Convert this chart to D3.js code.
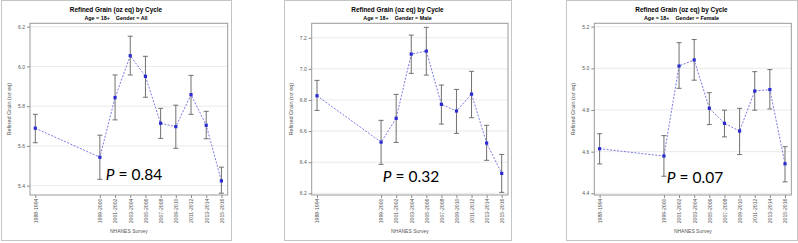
<!doctype html>
<html lang="en">
<head>
<meta charset="utf-8">
<title>Refined Grain by Cycle</title>
<script src="https://cdn.jsdelivr.net/npm/d3@7"></script>
<style>
  body { margin: 0; background: #fff; }
  svg text { font-family: "Liberation Sans", Arial, sans-serif; }
</style>
</head>
<body>
<div id="chart"></div>
<script>
// survey cycles (x categories)
var cycles = ["1988-1994", "1999-2000", "2001-2002", "2003-2004", "2005-2006",
  "2007-2008", "2009-2010", "2011-2012", "2013-2014", "2015-2016"];

// Age 18+, Gender = All
var allMean  = [5.689, 5.543, 5.843, 6.054, 5.950, 5.714, 5.697, 5.858, 5.704, 5.424];
var allLower = [5.616, 5.432, 5.731, 5.957, 5.845, 5.638, 5.588, 5.759, 5.636, 5.362];
var allUpper = [5.759, 5.654, 5.957, 6.152, 6.051, 5.789, 5.805, 5.955, 5.774, 5.493];

// Age 18+, Gender = Male
var maleMean  = [6.827, 6.529, 6.682, 7.095, 7.114, 6.772, 6.729, 6.838, 6.523, 6.328];
var maleLower = [6.733, 6.386, 6.527, 6.971, 6.960, 6.645, 6.585, 6.686, 6.412, 6.206];
var maleUpper = [6.926, 6.669, 6.836, 7.217, 7.267, 6.896, 6.868, 6.984, 6.637, 6.450];

// Age 18+, Gender = Female
var femaleMean  = [4.614, 4.579, 5.011, 5.040, 4.808, 4.736, 4.699, 4.891, 4.898, 4.542];
var femaleLower = [4.541, 4.482, 4.904, 4.943, 4.730, 4.671, 4.586, 4.799, 4.805, 4.455];
var femaleUpper = [4.686, 4.677, 5.123, 5.138, 4.883, 4.799, 4.808, 4.984, 4.994, 4.624];

// y tick labels per panel
var allTicks    = [5.4, 5.6, 5.8, 6.0, 6.2];
var maleTicks   = [6.2, 6.4, 6.6, 6.8, 7.0, 7.2];
var femaleTicks = [4.4, 4.6, 4.8, 5.0, 5.2];

var genders = ["All", "Male", "Female"];
var pValues = ["0.84", "0.32", "0.07"];

var svg = d3.select("#chart").append("svg")
  .attr("width", 798)
  .attr("height", 243);

// layout of each panel (outer box, plot frame, y range)
var panels = [
  { box: [1, 231], frame: [30, 227.7], ydom: [5.353, 6.217], ticks: allTicks,
    mean: allMean, lo: allLower, hi: allUpper, px: 134, py: 179.5 },
  { box: [284, 511], frame: [311.7, 508], ydom: [6.189, 7.293], ticks: maleTicks,
    mean: maleMean, lo: maleLower, hi: maleUpper, px: 411, py: 181.5 },
  { box: [566, 797], frame: [594.3, 791.3], ydom: [4.392, 5.216], ticks: femaleTicks,
    mean: femaleMean, lo: femaleLower, hi: femaleUpper, px: 695, py: 183 }
];

var plotTop = 23.3, plotBottom = 195;

// midpoint year of each cycle, used as the x value
var cycleMid = cycles.map(function(c) {
  var p = c.split("-");
  return (+p[0] + +p[1]) / 2;
});

panels.forEach(function(p, i) {
  drawPanel(p, genders[i], pValues[i]);
});

function drawPanel(p, gender, pval) {
  var g = svg.append("g");

  // outer border
  g.append("rect")
    .attr("x", p.box[0] + 0.5).attr("y", 0.5)
    .attr("width", p.box[1] - p.box[0]).attr("height", 240)
    .attr("fill", "none").attr("stroke", "#c4c4c4");

  var x = d3.scaleLinear()
    .domain(d3.extent(cycleMid))
    .range([p.frame[0] + 5.3, p.frame[1] - 6.3]);
  var y = d3.scaleLinear()
    .domain(p.ydom)
    .range([plotBottom, plotTop]);

  // grid
  g.selectAll(".grid").data(p.ticks).enter().append("line")
    .attr("x1", p.frame[0]).attr("x2", p.frame[1])
    .attr("y1", function(d) { return y(d); })
    .attr("y2", function(d) { return y(d); })
    .attr("stroke", "#e4e4e4").attr("stroke-width", 0.8);

  // y axis
  var yAxis = d3.axisLeft(y).tickValues(p.ticks).tickSize(3).tickPadding(2)
    .tickFormat(d3.format(".1f"));
  var ya = g.append("g")
    .attr("transform", "translate(" + p.frame[0] + ",0)")
    .call(yAxis);
  ya.select(".domain").remove();
  ya.selectAll("line").attr("stroke", "#888");
  ya.selectAll("text").attr("font-size", 5).attr("fill", "#555");

  // x axis
  var xAxis = d3.axisBottom(x).tickValues(cycleMid).tickSize(3).tickPadding(2)
    .tickFormat(function(d, i) { return cycles[i]; });
  var xa = g.append("g")
    .attr("transform", "translate(0," + plotBottom + ")")
    .call(xAxis);
  xa.select(".domain").remove();
  xa.selectAll("line").attr("stroke", "#888");
  xa.selectAll("text")
    .attr("font-size", 5.2).attr("fill", "#555")
    .attr("transform", "rotate(-90)")
    .attr("text-anchor", "end")
    .attr("x", -3.5).attr("y", 0).attr("dy", "0.35em");

  // plot frame
  g.append("rect")
    .attr("x", p.frame[0]).attr("y", plotTop)
    .attr("width", p.frame[1] - p.frame[0]).attr("height", plotBottom - plotTop)
    .attr("fill", "none").attr("stroke", "#9a9a9a").attr("stroke-width", 1);

  // connecting line
  var line = d3.line()
    .x(function(d, i) { return x(cycleMid[i]); })
    .y(function(d) { return y(d); });
  g.append("path")
    .datum(p.mean)
    .attr("d", line)
    .attr("fill", "none")
    .attr("stroke", "#6b6be0")
    .attr("stroke-width", 0.9)
    .attr("stroke-dasharray", "2,1.5");

  // error bars
  var bars = g.selectAll(".bar").data(p.mean).enter().append("g");
  bars.append("line")
    .attr("x1", function(d, i) { return x(cycleMid[i]); })
    .attr("x2", function(d, i) { return x(cycleMid[i]); })
    .attr("y1", function(d, i) { return y(p.lo[i]); })
    .attr("y2", function(d, i) { return y(p.hi[i]); })
    .attr("stroke", "#707070").attr("stroke-width", 1);
  [p.lo, p.hi].forEach(function(arr) {
    bars.append("line")
      .attr("x1", function(d, i) { return x(cycleMid[i]) - 2.5; })
      .attr("x2", function(d, i) { return x(cycleMid[i]) + 2.5; })
      .attr("y1", function(d, i) { return y(arr[i]); })
      .attr("y2", function(d, i) { return y(arr[i]); })
      .attr("stroke", "#707070").attr("stroke-width", 1);
  });

  // markers
  g.selectAll(".pt").data(p.mean).enter().append("rect")
    .attr("x", function(d, i) { return x(cycleMid[i]) - 1.6; })
    .attr("y", function(d) { return y(d) - 1.6; })
    .attr("width", 3.2).attr("height", 3.2)
    .attr("fill", "#2a2ad2");

  // titles
  var cx = (p.box[0] + p.box[1]) / 2;
  g.append("text")
    .attr("x", cx).attr("y", 12.3)
    .attr("text-anchor", "middle")
    .attr("font-size", 6.4).attr("font-weight", "bold")
    .text("Refined Grain (oz eq) by Cycle");
  g.append("text")
    .attr("x", cx).attr("y", 20)
    .attr("text-anchor", "middle")
    .attr("font-size", 5.4).attr("font-weight", "bold")
    .attr("xml:space", "preserve")
    .text("Age = 18+    Gender = " + gender);

  // axis labels
  g.append("text")
    .attr("x", (p.frame[0] + p.frame[1]) / 2).attr("y", 233)
    .attr("text-anchor", "middle")
    .attr("font-size", 5).attr("fill", "#555")
    .text("NHANES Survey");
  g.append("text")
    .attr("transform", "translate(" + (p.frame[0] - 19) + "," + ((plotTop + plotBottom) / 2) + ") rotate(-90)")
    .attr("text-anchor", "middle")
    .attr("font-size", 5.5).attr("fill", "#555")
    .text("Refined Grain (oz eq)");

  // p-value annotation
  var pt = g.append("text")
    .attr("x", p.px).attr("y", p.py)
    .attr("text-anchor", "middle")
    .attr("font-size", 15.5)
    .style("font-family", "Lato, 'Open Sans', sans-serif")
    .attr("fill", "#000");
  pt.append("tspan").attr("font-style", "italic").text("P");
  pt.append("tspan").text(" = " + pval);
}
</script>
</body>
</html>
